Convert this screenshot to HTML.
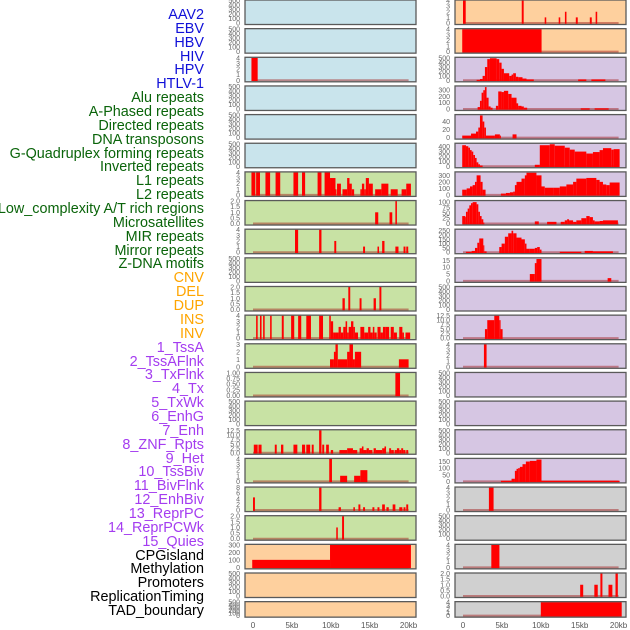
<!DOCTYPE html>
<html><head><meta charset="utf-8">
<style>
body{margin:0;background:#fff;width:630px;height:630px;overflow:hidden;font-family:"Liberation Sans",sans-serif}
#lbls{position:absolute;left:0;top:0;width:204px;height:630px}
.lb{position:absolute;right:0;font-size:14.4px;line-height:14px;white-space:nowrap;transform:translateY(-7px)}
svg{position:absolute;left:0;top:0}
</style></head><body>
<div id="lbls"></div>
<svg id="chart" width="630" height="630"></svg>
<script>
const trackNames = ["AAV2","EBV","HBV","HIV","HPV","HTLV-1","Alu repeats","A-Phased repeats","Directed repeats","DNA transposons","G-Quadruplex forming repeats","Inverted repeats","L1 repeats","L2 repeats","Low_complexity A/T rich regions","Microsatellites","MIR repeats","Mirror repeats","Z-DNA motifs","CNV","DEL","DUP","INS","INV","1_TssA","2_TssAFlnk","3_TxFlnk","4_Tx","5_TxWk","6_EnhG","7_Enh","8_ZNF_Rpts","9_Het","10_TssBiv","11_BivFlnk","12_EnhBiv","13_ReprPC","14_ReprPCWk","15_Quies","CPGisland","Methylation","Promoters","ReplicationTiming","TAD_boundary"];
const trackGroups = ["v","v","v","v","v","v","r","r","r","r","r","r","r","r","r","r","r","r","r","s","s","s","s","s","c","c","c","c","c","c","c","c","c","c","c","c","c","c","c","o","o","o","o","o"];
const xTickValues = [0,5,10,15,20];
const xTickLabels = ["0","5kb","10kb","15kb","20kb"];
const E = ["0","100","200","300","400","500"];
const tickLabels = [
E,E,["0","1","2","3","4"],E,E,E,
["0","1","2","3","4"],["0.0","0.5","1.0","1.5","2.0"],["0","1","2","3","4"],E,["0.0","0.5","1.0","1.5","2.0"],["0","1","2","3","4"],["0","1","2","3"],["0.00","0.25","0.50","0.75","1.00"],E,["0.0","2.5","5.0","7.5","10.0","12.5"],["0","1","2","3","4"],["0","2","4","6","8"],["0.0","0.5","1.0","1.5","2.0"],["0","100","200","300"],E,E,
["0","1","2","3","4"],["0","1","2","3","4"],["0","100","200","300","400","500"],["0","100","200","300"],["0","20","40"],["0","100","200","300","400"],["0","100","200","300"],["0","25","50","75","100"],["0","50","100","150","200","250"],["0","5","10","15"],E,["0.0","2.5","5.0","7.5","10.0","12.5"],["0","1","2","3","4"],E,E,E,["0","50","100","150"],["0","1","2","3","4"],E,["0","1","2","3","4"],["0.0","0.5","1.0","1.5","2.0"],["0","1","2","3","4"]];
const yMaxes = [500,500,4,500,500,500, 4,2,4,500,2,4,3,1,500,12.5,4,8,2,300,500,500,
4,4,510,360,56,460,345,105,262,16.5,500,12.5,4,500,500,500,170,4,500,4,2,4];
const barSegments = [
[],[],[[-0.2,0.6,4]],[],[],[],
[[-0.2,0.3,4],[0.4,0.9,4],[1.6,2.2,4],[2.9,3.5,4],[5.2,5.8,4],[6.3,6.7,4],[8.3,8.8,4],[9.2,9.9,4],[9.9,10.6,3],[10.6,10.7,1],[10.8,11.3,2],[11.5,12.1,1],[12.1,12.4,3],[12.4,12.7,2],[12.7,13.0,1],[13.8,14.0,1],[14.0,14.3,2],[14.3,14.5,1],[14.5,14.9,3],[14.9,15.4,2],[15.7,16.5,1],[16.5,17.4,2],[17.7,18.6,1],[19.1,19.7,1],[19.7,20.3,2]],
[[15.7,16.1,1],[17.55,17.9,1],[18.3,18.5,2]],
[[5.4,5.8,4],[8.5,8.8,4],[10.45,10.7,2],[14.15,14.4,1],[16.0,16.2,1],[16.6,16.9,2],[18.3,18.7,1],[19.35,19.6,1],[19.7,19.95,1]],
[],
[[11.5,11.8,1],[12.25,12.5,2],[13.7,13.95,1],[15.5,15.8,1],[16.25,16.5,2]],
[[0.4,0.6,4],[0.9,1.1,4],[1.3,1.5,4],[2.2,2.4,4],[3.7,3.95,4],[4.9,5.3,4],[5.8,6.2,4],[6.85,7.45,4],[8.5,9.0,4],[9.8,10.0,4],[10.0,10.3,3],[10.3,10.6,1],[10.6,11.0,1],[11.0,11.3,2],[11.3,11.6,1],[11.6,11.9,2],[11.9,12.1,3],[12.1,12.3,1],[12.3,12.6,2],[12.6,12.9,3],[12.9,13.1,2],[13.1,13.5,1],[13.8,14.3,2],[14.3,14.8,1],[14.8,15.1,2],[15.1,15.4,1],[15.4,15.6,2],[15.6,15.9,1],[16.0,16.4,2],[16.4,16.7,1],[16.7,17.0,2],[17.0,17.5,2],[17.7,18.1,2],[18.1,18.5,1],[18.8,19.2,2],[19.2,19.4,1],[19.6,20.2,1]],
[[9.9,10.4,1],[10.4,10.6,2],[10.6,10.9,3],[10.9,12.1,1],[12.1,12.4,2],[12.4,12.85,3],[12.85,13.1,1],[13.1,13.9,2],[18.75,20.0,1]],
[[18.3,18.9,1]],
[],
[[0.1,0.6,4.5],[0.7,1.1,4.5],[2.8,3.05,4.5],[3.6,3.9,4.5],[5.2,5.7,4.5],[6.3,6.7,4.5],[6.85,7.35,4.5],[7.55,7.8,4.5],[8.5,8.8,12.5],[8.9,9.15,4.5],[9.4,9.75,4.5],[10.0,10.3,1.5],[11.1,12.1,1.5],[12.1,12.85,2.5],[12.85,13.4,1.5],[13.7,14.0,2.5],[14.0,14.2,3.5],[14.2,14.6,1.5],[14.6,14.9,2.5],[14.9,15.35,1.5],[15.5,15.8,2.5],[15.8,16.6,1.5],[16.6,16.9,2.5],[16.9,17.1,3.5],[17.5,17.75,2.5],[17.75,18.1,1.5],[18.2,18.5,1.5],[18.5,18.8,2.5],[18.8,19.05,1.5],[19.05,19.3,2.5],[19.3,19.6,1.5],[19.7,19.95,1.5]],
[[9.8,10.15,4],[11.2,12.1,1],[13.0,13.8,1],[13.8,14.7,2]],
[[0,0.25,4.5],[8.5,8.8,8],[11.0,11.3,1],[12.9,13.1,1],[13.55,13.8,2],[14.15,14.4,1],[15.35,15.6,1],[16.0,16.25,1],[16.6,16.95,2],[17.15,17.45,1],[17.95,18.3,2],[18.8,19.2,1],[19.35,19.6,1],[19.7,19.95,2]],
[[10.7,10.9,1],[11.45,11.7,2]],
[[-0.1,9.9,100],[9.9,20.3,300]],
[],[],
[[0,0.35,4],[7.55,7.8,4],[10.5,10.7,1],[12.3,12.5,1],[13.1,13.3,2],[14.5,14.75,1],[16.3,16.55,1],[17.05,17.25,2]],
[[-0.1,10.1,4]],
[[1.75,2.18,10],[2.18,2.52,30],[2.52,2.82,100],[2.82,3.12,300],[3.12,3.46,480],[3.46,4.32,500],[4.32,4.66,480],[4.66,4.96,400],[4.96,5.26,260],[5.26,5.94,160],[5.94,6.24,100],[6.24,6.45,130],[6.45,6.8,160],[6.8,7.1,80],[7.1,7.65,70],[7.65,8.16,40],[8.16,9.1,20],[14.8,15.85,20],[16.5,18.3,20]],
[[1.88,2.18,30],[2.18,2.39,130],[2.39,2.61,260],[2.61,2.82,300],[2.82,3.03,350],[3.03,3.29,180],[3.29,3.55,40],[3.55,3.8,20],[4.23,4.53,50],[4.53,4.96,280],[4.96,5.26,270],[5.26,5.81,290],[5.81,6.24,240],[6.24,6.88,180],[6.88,7.09,90],[7.09,7.52,50],[7.52,7.82,40],[7.82,8.25,20],[15.13,16.28,10],[16.92,18.72,10]],
[[-0.1,1.03,5],[1.03,1.67,10],[1.67,1.97,15],[1.97,2.18,25],[2.18,2.52,55],[2.52,2.74,40],[2.74,2.95,25],[2.95,4.1,5],[4.1,4.74,8],[4.74,4.87,5],[6.37,6.88,8]],
[[-0.1,0.38,430],[0.38,0.68,410],[0.68,0.9,380],[0.9,1.11,330],[1.11,1.32,300],[1.32,1.54,230],[1.54,1.75,170],[1.75,1.97,80],[1.97,2.18,40],[2.18,2.52,15],[9.23,9.87,30],[9.87,11.15,430],[11.15,11.79,450],[11.79,13.08,420],[13.08,13.72,380],[13.72,14.36,340],[14.36,15.85,300],[15.85,16.7,260],[16.7,17.56,290],[17.56,17.99,330],[17.99,19.06,370],[19.06,19.36,340],[19.36,20.13,350]],
[[-0.1,0.47,80],[0.47,0.9,100],[0.9,1.24,130],[1.24,1.54,150],[1.54,1.75,200],[1.75,2.26,300],[2.26,2.52,200],[2.52,2.9,80],[4.87,5.51,20],[5.51,6.03,30],[6.03,6.45,40],[6.45,6.67,50],[6.67,6.88,150],[6.88,7.52,200],[7.52,7.95,250],[7.95,8.16,300],[8.16,9.44,340],[9.44,10.09,300],[10.09,10.51,130],[10.51,11.58,110],[11.58,12.44,110],[12.44,13.29,130],[13.29,14.15,160],[14.15,14.57,200],[14.57,15.85,250],[15.85,17.14,260],[17.14,17.56,230],[17.56,17.99,200],[17.99,18.42,160],[18.42,18.85,150],[18.85,20.13,190]],
[[-0.1,0.3,35],[0.3,0.38,30],[0.38,0.6,55],[0.6,0.81,70],[0.81,1.03,85],[1.03,1.24,95],[1.24,1.75,100],[1.75,1.97,90],[1.97,2.18,55],[2.18,2.39,35],[2.39,2.61,20],[2.61,2.74,5],[9.23,9.74,10],[10.81,12.01,8],[12.56,13.08,8],[13.08,13.38,15],[13.38,13.63,20],[13.63,14.15,15],[14.15,14.57,8],[14.57,15.21,15],[15.21,15.85,25],[15.85,16.28,35],[16.28,16.7,30],[16.7,16.92,15],[16.92,17.56,10],[17.56,17.99,12],[17.99,19.91,15]],
[[0.38,1.11,5],[1.11,1.54,15],[1.54,1.84,50],[1.84,2.09,110],[2.09,2.61,160],[2.61,2.74,80],[2.74,3.03,10],[4.66,4.96,60],[4.96,5.38,100],[5.38,5.81,180],[5.81,6.24,220],[6.24,6.45,250],[6.45,6.88,220],[6.88,7.52,170],[7.52,7.95,150],[7.95,8.16,100],[8.16,8.5,40],[8.5,9.23,40],[9.23,9.53,50],[9.53,9.87,60],[9.87,10.09,30],[12.44,15.21,5],[15.64,16.7,15],[16.7,19.27,10]],
[[8.59,9.23,5],[9.23,9.44,13],[9.44,10.09,16],[18.59,19.06,2]],
[],
[[2.82,3.12,5],[3.12,4.02,10],[4.02,4.66,12.5],[4.66,4.83,10],[4.83,5.09,5]],
[[2.69,3.03,4]],
[],[],[],
[[4.87,6.24,5],[6.24,6.67,20],[6.67,6.88,80],[6.88,7.09,95],[7.09,7.31,100],[7.31,7.65,110],[7.65,8.08,130],[8.08,8.59,150],[8.59,9.44,155],[9.44,10.09,165],[10.09,20.13,5]],
[[3.33,3.93,4]],
[],
[[3.64,4.68,4]],
[[15.06,15.45,1],[16.88,17.32,1],[17.66,17.92,2],[18.7,19.2,1],[19.6,19.9,2]],
[[10.0,20.4,4]]];

const NS="http://www.w3.org/2000/svg";
const svg=document.getElementById('chart');
const groupColor={v:"#1010d8",r:"#0a640a",s:"#ffa500",c:"#a43cf0",o:"#000"};
const bgColor=[];
for(let i=0;i<44;i++){let c;
 if(i<6)c="#c9e4ec";else if(i<19)c="#c8e2a4";else if(i<24)c="#fed09e";else if(i<39)c="#d6c6e3";else c="#d0d0d0";bgColor.push(c);}
const lbls=document.getElementById('lbls');
trackNames.forEach((n,i)=>{
 const d=document.createElement('div');d.className='lb';
 
 
 d.style.top=(15+i*13.86)+'px';d.style.color=groupColor[trackGroups[i]];d.textContent=n;lbls.appendChild(d);
});
function mk(t,a){const e=document.createElementNS(NS,t);for(const k in a)e.setAttribute(k,a[k]);return e;}
const pitch=28.65;
for(let p=0;p<44;p++){
 const col=p<22?0:1,row=p%22;
 const L=col?455:245,W=171,T=row*pitch,H=row==21?15.5:24.5;
 const x0=col?463:253,kx=7.78;
 const xs=kb=>x0+kb*kx;
 const ymax=yMaxes[p];
 const ys=v=>T+0.5+(1-v/ymax)*(H-2);
 const g=mk('g',{});
 
 
 const bg=mk('rect',{x:L,y:T,width:W,height:H,fill:bgColor[p]});
 
 
 g.appendChild(bg);
 const segs=barSegments[p];
 if(segs.length){
  const bl=mk('line',{x1:xs(0),x2:xs(20),y1:ys(0),y2:ys(0),stroke:'rgba(160,20,20,0.45)','stroke-width':2});
  
  
  g.appendChild(bl);
 }
 segs.forEach(s=>{
  const y=Math.max(ys(s[2]),T+0.5);
  const r=mk('rect',{x:xs(s[0]),y:y,width:Math.max(xs(s[1])-xs(s[0]),1),height:ys(0)-y+0.8,fill:'#ff0000'});
  
  
  g.appendChild(r);
 });
 const bd=mk('rect',{x:L,y:T,width:W,height:H,fill:'none',stroke:'#5a5a5a','stroke-width':1.3});
 
 
 g.appendChild(bd);
 const tl=tickLabels[p];
 tl.forEach(t=>{
  const v=parseFloat(t);
  const tx=mk('text',{x:L-5,y:ys(v)+2.5,'text-anchor':'end','font-size':7,fill:'#666','font-family':'Liberation Sans, sans-serif'});
  tx.textContent=t;
  
  
  g.appendChild(tx);
 });
 svg.appendChild(g);
}
[0,1].forEach(col=>{
 const x0=col?463:253;
 xTickValues.forEach((v,i)=>{
  const t=mk('text',{x:x0+v*7.78,y:628,'text-anchor':'middle','font-size':8,fill:'#555','font-family':'Liberation Sans, sans-serif'});
  t.textContent=xTickLabels[i];
  
  
  svg.appendChild(t);
 });
});
</script>
</body></html>
